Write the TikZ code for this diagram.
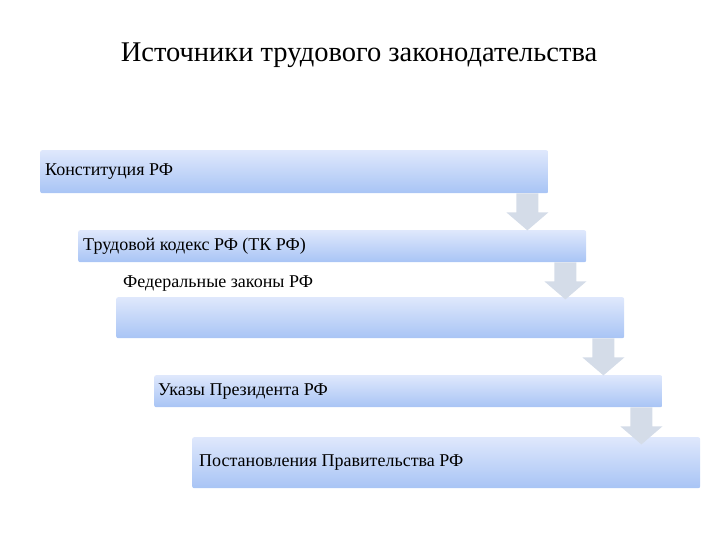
\documentclass[tikz,border=0pt]{standalone}
\usepackage{fontspec}
\setmainfont{Liberation Serif}
\usetikzlibrary{positioning,calc}

\definecolor{boxtop}{RGB}{223,232,252}
\definecolor{boxbot}{RGB}{168,196,245}
\definecolor{arrowgray}{RGB}{212,220,232}

\begin{document}
\begin{tikzpicture}[x=1pt,y=-1pt,
  level/.style={anchor=north west, minimum width=508pt, inner sep=0pt,
    rounded corners=2pt, top color=boxtop, bottom color=boxbot},
  leveltext/.style={anchor=west, inner sep=0pt, font=\fontsize{18}{21}\selectfont},
  downarrow/.style={fill=arrowgray}]

\useasboundingbox (0,0) rectangle (720,540);

\node[font=\fontsize{28.5}{32}\selectfont] (title) at (359,55) {Источники трудового законодательства};

% the five levels
\node[level, minimum height=43pt] (con)  at (40,150)  {};
\node[level, minimum height=32pt] (tk)   at (78,230)  {};
\node[level, minimum height=41pt] (fz)   at (116,297) {};
\node[level, minimum height=32pt] (uk)   at (154,375) {};
\node[level, minimum height=51pt] (post) at (192,437) {};

\node[leveltext, right=5pt of con.west]  (context)  {Конституция РФ};
\node[leveltext, right=5pt of tk.west]   (tktext)   {Трудовой кодекс РФ (ТК РФ)};
\node[leveltext] (fztext) at ($(fz.north west)+(7,-13)$) {Федеральные законы РФ};
\node[leveltext, right=4pt of uk.west]   (uktext)   {Указы Президента РФ};
\node[leveltext, right=7pt of post.west] (posttext) {Постановления Правительства РФ};

% arrows down the steps
\foreach \a in {con, tk, fz, uk}
  \fill[downarrow] let \p1=(\a.south east) in
    (\x1-32pt,\y1) -- (\x1-10pt,\y1) -- (\x1-10pt,\y1-19pt) -- (\x1+0pt,\y1-19pt)
    -- (\x1-21pt,\y1-37pt) -- (\x1-42pt,\y1-19pt) -- (\x1-32pt,\y1-19pt) -- cycle;

\end{tikzpicture}
\end{document}
